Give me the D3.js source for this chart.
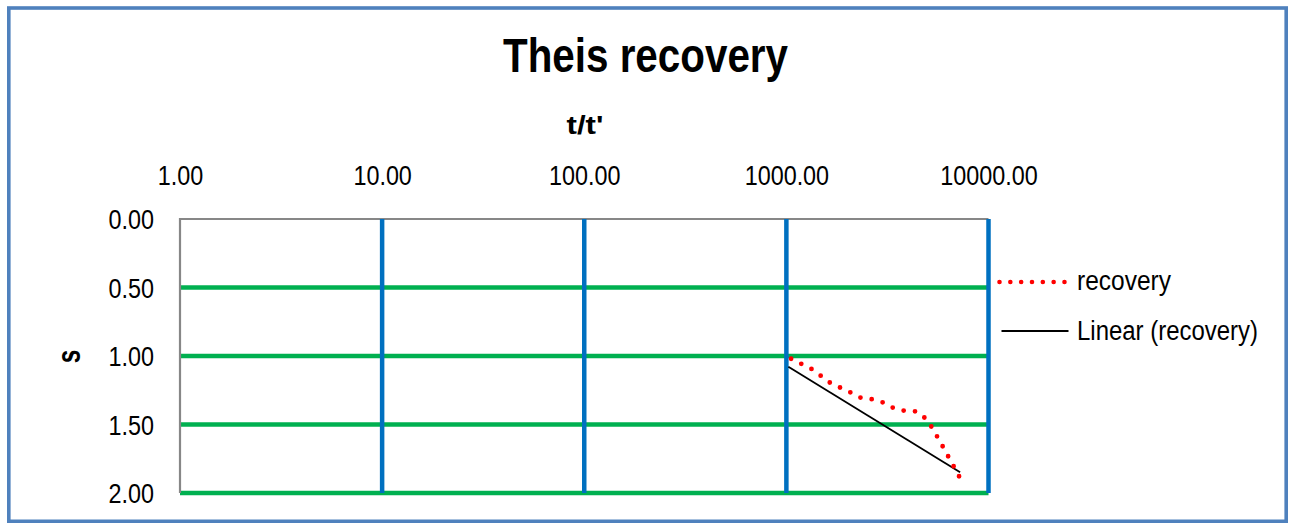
<!DOCTYPE html>
<html>
<head>
<meta charset="utf-8">
<script src="https://cdn.jsdelivr.net/npm/d3@7"></script>
<style>
  html, body { margin: 0; padding: 0; background: #fff; }
  svg { display: block; }
  text { font-family: "Liberation Sans", Arial, sans-serif; fill: #000; }
</style>
</head>
<body>
<svg id="chart" width="1289" height="523"></svg>
<script>
// ---- data ----
const title = "Theis recovery";
const xTitle = "t/t'";
const yTitle = "s";
const xTicks = [1, 10, 100, 1000, 10000];
const yTicks = [0, 0.5, 1.0, 1.5, 2.0];
const recoveryT = [1055, 1341, 1651, 2090, 2350, 2677, 3034, 3412, 3866, 4385, 4875, 5260, 5983, 6780, 7211];
const recoveryS = [1.020, 1.097, 1.197, 1.268, 1.307, 1.316, 1.341, 1.382, 1.401, 1.404, 1.455, 1.523, 1.669, 1.815, 1.888];
const trendT = [1023, 7236];
const trendS = [1.078, 1.849];
const seriesNames = ["recovery", "Linear (recovery)"];

// ---- layout ----
const svg = d3.select("#chart");
const pL = 180, pR = 988.5, pT = 219, pB = 493;

const x = d3.scaleLog().domain([1, 10000]).range([pL, pR]);
const y = d3.scaleLinear().domain([0, 2]).range([pT, pB]);

// horizontally condense text (reference uses a narrow face)
function squeeze(sel, sx) {
  sel.each(function () {
    const len = this.getComputedTextLength();
    d3.select(this).attr("textLength", len * sx).attr("lengthAdjust", "spacingAndGlyphs");
  });
}
function fitWidth(sel, w) {
  sel.attr("textLength", w).attr("lengthAdjust", "spacingAndGlyphs");
}

// outer border
svg.append("rect")
  .attr("x", 8.8).attr("y", 8).attr("width", 1277.4).attr("height", 513.3)
  .attr("fill", "#fff").attr("stroke", "#4F81BD").attr("stroke-width", 3.6);

// title
svg.append("text").attr("x", 645.5).attr("y", 72).attr("text-anchor", "middle")
  .style("font-size", "48px").style("font-weight", "bold").text(title)
  .call(fitWidth, 285);

// x axis title
svg.append("text").attr("x", 585).attr("y", 134).attr("text-anchor", "middle")
  .style("font-size", "25px").style("font-weight", "bold").text(xTitle)
  .call(fitWidth, 37);

// y axis title
svg.append("text").attr("transform", "translate(79.5,356.5) rotate(-90)")
  .attr("text-anchor", "middle")
  .style("font-size", "33px").style("font-weight", "bold").text(yTitle)
  .call(squeeze, 0.74);

// horizontal gridlines (green)
svg.append("g").selectAll("line").data(yTicks.filter(d => d > 0)).join("line")
  .attr("x1", pL).attr("x2", pR)
  .attr("y1", d => y(d)).attr("y2", d => y(d))
  .attr("stroke", "#00B050").attr("stroke-width", 4.5);

// plot border (gray) left + top
svg.append("path")
  .attr("d", `M${pL},${y(2)}V${pT}H${pR}`)
  .attr("fill", "none").attr("stroke", "#878787").attr("stroke-width", 2.2);

// vertical gridlines (blue)
svg.append("g").selectAll("line").data(xTicks.filter(d => d > 1)).join("line")
  .attr("x1", d => x(d)).attr("x2", d => x(d))
  .attr("y1", pT).attr("y2", y(2))
  .attr("stroke", "#0070C0").attr("stroke-width", 4.5);

// x axis tick labels (top)
const xAxis = d3.axisTop(x).tickValues(xTicks).tickFormat(d3.format(".2f")).tickSize(0).tickPadding(0);
const gx = svg.append("g").attr("transform", `translate(0,185)`).call(xAxis);
gx.select(".domain").remove();
gx.attr("font-family", null).attr("font-size", null);
gx.selectAll("text").attr("dy", 0).attr("y", 0).style("font-size", "28.5px").attr("fill", "#000")
  .call(squeeze, 0.82);

// y axis tick labels
const yAxis = d3.axisLeft(y).tickValues(yTicks).tickFormat(d3.format(".2f")).tickSize(0).tickPadding(0);
const gy = svg.append("g").attr("transform", `translate(154,0)`).call(yAxis);
gy.select(".domain").remove();
gy.attr("font-family", null).attr("font-size", null);
gy.selectAll("text").attr("dy", "0.35em").attr("x", 0).style("font-size", "28.5px").attr("fill", "#000")
  .call(squeeze, 0.82);

// trendline
const line = d3.line().x(d => x(d[0])).y(d => y(d[1]));
svg.append("path").datum(trendT.map((t, i) => [t, trendS[i]]))
  .attr("d", line).attr("fill", "none").attr("stroke", "#000").attr("stroke-width", 1.8);

// recovery dotted series
svg.append("path").datum(recoveryT.map((t, i) => [t, recoveryS[i]]))
  .attr("d", line).attr("fill", "none").attr("stroke", "#FF0000")
  .attr("stroke-width", 4.8).attr("stroke-linecap", "round")
  .attr("stroke-dasharray", "0 11.4");

// legend
const lg = svg.append("g");
lg.append("line").attr("x1", 999.5).attr("x2", 1064.5).attr("y1", 282).attr("y2", 282)
  .attr("stroke", "#FF0000").attr("stroke-width", 4.6).attr("stroke-linecap", "round")
  .attr("stroke-dasharray", "0 10.83");
lg.append("text").attr("x", 1077).attr("y", 289.5).style("font-size", "27px").text(seriesNames[0])
  .call(fitWidth, 94);
lg.append("line").attr("x1", 1001.5).attr("x2", 1068.5).attr("y1", 331).attr("y2", 331)
  .attr("stroke", "#000").attr("stroke-width", 1.8);
lg.append("text").attr("x", 1077).attr("y", 340).style("font-size", "27px").text(seriesNames[1])
  .call(fitWidth, 181);
</script>
</body>
</html>
